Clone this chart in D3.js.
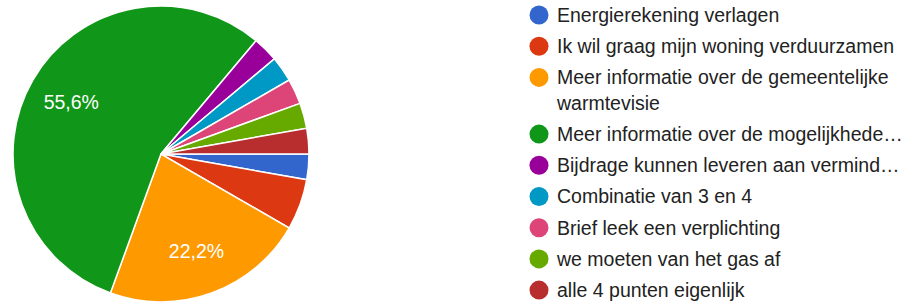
<!DOCTYPE html>
<html lang="nl">
<head>
    <meta charset="UTF-8">
    <title>Pie chart</title>
    <script src="https://d3js.org/d3.v7.min.js"></script>
    <style>
        body {
            margin: 0;
            background: #fff;
            font-family: Arial, "Liberation Sans", sans-serif;
        }
        .legend text {
            fill: #222;
            font-size: 19.5px;
        }
        .slice-label {
            fill: #fff;
            font-size: 19.5px;
        }
    </style>
</head>
<body>
    <div id="chart"></div>

    <script>
        // Answers (legend order) and their counts
        const categories = [
            "Energierekening verlagen",
            "Ik wil graag mijn woning verduurzamen",
            "Meer informatie over de gemeentelijke warmtevisie",
            "Meer informatie over de mogelijkhede\u2026",
            "Bijdrage kunnen leveren aan vermind\u2026",
            "Combinatie van 3 en 4",
            "Brief leek een verplichting",
            "we moeten van het gas af",
            "alle 4 punten eigenlijk"
        ];
        const counts = [1, 2, 8, 20, 1, 1, 1, 1, 1];
        const colors = ["#3366cc", "#dc3912", "#ff9900", "#109618", "#990099",
                        "#0099c6", "#dd4477", "#66aa00", "#b82e2e"];
        // legend lines (wrapped like the original)
        const legendLines = [
            ["Energierekening verlagen"],
            ["Ik wil graag mijn woning verduurzamen"],
            ["Meer informatie over de gemeentelijke", "warmtevisie"],
            ["Meer informatie over de mogelijkhede\u2026"],
            ["Bijdrage kunnen leveren aan vermind\u2026"],
            ["Combinatie van 3 en 4"],
            ["Brief leek een verplichting"],
            ["we moeten van het gas af"],
            ["alle 4 punten eigenlijk"]
        ];

        const width = 913, height = 305;
        const cx = 161, cy = 154, radius = 148;

        const svg = d3.select("#chart").append("svg")
            .attr("width", width)
            .attr("height", height);

        const data = categories.map((c, i) => ({ name: c, value: counts[i], color: colors[i] }));
        const total = d3.sum(counts);

        // start at 3 o'clock, clockwise, keep data order
        const pie = d3.pie()
            .value(d => d.value)
            .sort(null)
            .startAngle(Math.PI / 2)
            .endAngle(Math.PI / 2 + 2 * Math.PI);

        const arc = d3.arc().innerRadius(0).outerRadius(radius);
        const labelArc = d3.arc().innerRadius(radius * 0.7).outerRadius(radius * 0.7);

        const g = svg.append("g").attr("transform", `translate(${cx},${cy})`);

        g.selectAll("path")
            .data(pie(data))
            .enter().append("path")
            .attr("d", arc)
            .attr("fill", d => d.data.color)
            .attr("stroke", "#fff")
            .attr("stroke-width", 1.5);

        // percent labels only on large slices
        g.selectAll(".slice-label")
            .data(pie(data).filter(d => d.data.value / total > 0.1))
            .enter().append("text")
            .attr("class", "slice-label")
            .attr("text-anchor", "middle")
            .attr("dy", "0.35em")
            .attr("transform", d => `translate(${labelArc.centroid(d)})`)
            .text(d => (d.data.value / total * 100).toFixed(1).replace(".", ",") + "%");

        // Legend
        const legend = svg.append("g").attr("class", "legend")
            .attr("transform", "translate(539,15)");
        const rowStep = 31.2, lineStep = 25.5;
        let y = 0;
        legendLines.forEach((lines, i) => {
            const row = legend.append("g").attr("transform", `translate(0,${y})`);
            row.append("circle")
                .attr("r", 9.5)
                .attr("fill", colors[i]);
            lines.forEach((ln, j) => {
                row.append("text")
                    .attr("x", 18)
                    .attr("y", j * lineStep)
                    .attr("dy", "0.35em")
                    .text(ln);
            });
            y += rowStep + (lines.length - 1) * lineStep;
        });
    </script>
</body>
</html>
